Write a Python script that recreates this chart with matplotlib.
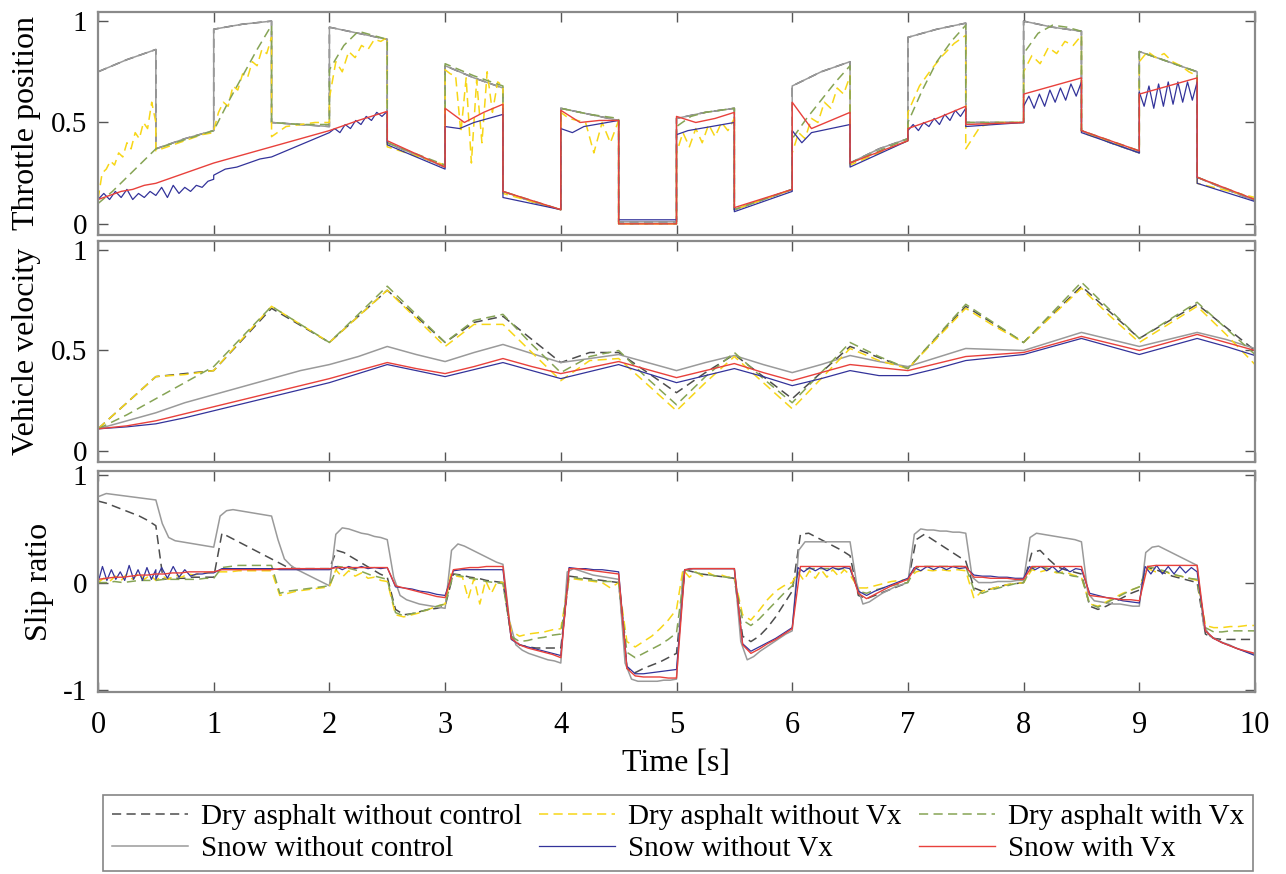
import numpy as np
import matplotlib
matplotlib.use("Agg")
import matplotlib.pyplot as plt

plt.rcParams['font.family'] = ['Liberation Serif', 'DejaVu Serif']

# --- Datos: cada tramo de 0.5 s es una lista de valores repartidos uniformemente ---
SEG = 0.5
labels = ["Dry asphalt without control", "Dry asphalt without Vx", "Dry asphalt with Vx",
          "Snow without control", "Snow without Vx", "Snow with Vx"]

# Throttle position
thr_no_ctrl = [
    [0.75, 0.81, 0.86], [0.37, 0.42, 0.46], [0.96, 0.985, 1.00], [0.50, 0.49, 0.48],
    [0.97, 0.94, 0.91], [0.40, 0.34, 0.28], [0.78, 0.72, 0.67], [0.16, 0.11, 0.07],
    [0.57, 0.54, 0.51], [0.01, 0.01], [0.52, 0.55, 0.57], [0.07, 0.12, 0.17],
    [0.68, 0.75, 0.80], [0.30, 0.37, 0.42], [0.92, 0.96, 0.99], [0.50, 0.50],
    [1.00, 0.97, 0.95], [0.46, 0.40, 0.35], [0.85, 0.80, 0.75], [0.23, 0.17, 0.115],
]
thr_dry_novx = [
    [0.12, 0.25, 0.27, 0.31, 0.29, 0.35, 0.33, 0.40, 0.37, 0.45, 0.42, 0.50, 0.47, 0.60, 0.50],
    [0.36, 0.38, 0.40, 0.42, 0.44, 0.45],
    [0.46, 0.55, 0.60, 0.58, 0.68, 0.66, 0.74, 0.72, 0.80, 0.78, 0.86, 0.84, 0.92],
    [0.43, 0.48, 0.49, 0.50, 0.50],
    [0.62, 0.80, 0.75, 0.85, 0.82, 0.88, 0.86, 0.91, 0.90, 0.92],
    [0.38, 0.29],
    [0.76, 0.74, 0.73, 0.45, 0.72, 0.30, 0.71, 0.40, 0.75, 0.55, 0.70, 0.68],
    [0.15, 0.07],
    [0.55, 0.52, 0.51, 0.50, 0.35, 0.50, 0.40, 0.51],
    [0.00, 0.00],
    [0.35, 0.45, 0.38, 0.47, 0.40, 0.49, 0.43, 0.50, 0.46, 0.52],
    [0.07, 0.17],
    [0.35, 0.45, 0.42, 0.52, 0.50, 0.60, 0.57, 0.67, 0.64, 0.73],
    [0.29, 0.41],
    [0.55, 0.68, 0.76, 0.83, 0.89, 0.93],
    [0.37, 0.48, 0.50, 0.50, 0.50],
    [0.75, 0.83, 0.79, 0.87, 0.84, 0.90, 0.88, 0.93],
    [0.45, 0.36],
    [0.80, 0.85, 0.82, 0.84, 0.80, 0.78, 0.75, 0.73],
    [0.20, 0.13],
    [0.45],
]
thr_dry_vx = [
    [0.10, 0.16, 0.23, 0.30, 0.37], [0.37, 0.40, 0.43, 0.46], [0.46, 0.60, 0.73, 0.86, 0.98],
    [0.50, 0.49, 0.49], [0.76, 0.88, 0.95, 0.93, 0.91], [0.40, 0.29], [0.79, 0.73, 0.68],
    [0.16, 0.07], [0.57, 0.54, 0.52], [0.00, 0.00], [0.48, 0.53, 0.55, 0.56, 0.57],
    [0.07, 0.17], [0.42, 0.52, 0.61, 0.70, 0.78], [0.30, 0.42], [0.50, 0.66, 0.80, 0.90, 0.98],
    [0.50, 0.50], [0.84, 0.94, 0.98, 0.97, 0.95], [0.46, 0.36], [0.85, 0.80, 0.75], [0.23, 0.12],
]
thr_snow_novx = [
    [0.12, 0.15, 0.12, 0.16, 0.13, 0.17, 0.12, 0.15, 0.13, 0.16, 0.14],
    [0.14, 0.18, 0.13, 0.19, 0.15, 0.18, 0.16, 0.19, 0.18, 0.21, 0.22],
    [0.24, 0.27, 0.28, 0.30, 0.32, 0.33],
    [0.33, 0.36, 0.39, 0.42, 0.45],
    [0.45, 0.47, 0.45, 0.49, 0.47, 0.51, 0.49, 0.53, 0.51, 0.55, 0.53, 0.555],
    [0.39, 0.27],
    [0.48, 0.47, 0.50, 0.52, 0.54],
    [0.13, 0.07],
    [0.47, 0.45, 0.48, 0.49, 0.50, 0.51],
    [0.02, 0.02],
    [0.44, 0.46, 0.47, 0.48, 0.49, 0.50],
    [0.06, 0.16],
    [0.46, 0.40, 0.45, 0.46, 0.47, 0.48, 0.49],
    [0.28, 0.41],
    [0.46, 0.49, 0.46, 0.50, 0.48, 0.52, 0.49, 0.54, 0.51, 0.56, 0.53, 0.57],
    [0.48, 0.50],
    [0.58, 0.63, 0.57, 0.64, 0.58, 0.66, 0.60, 0.67, 0.61, 0.69, 0.63, 0.70],
    [0.45, 0.35],
    [0.65, 0.58, 0.68, 0.57, 0.69, 0.58, 0.70, 0.59, 0.70, 0.60, 0.70, 0.61, 0.70],
    [0.20, 0.11],
    [0.37],
]
thr_snow_vx = [
    [0.12, 0.14, 0.16, 0.17, 0.19, 0.20], [0.20, 0.22, 0.24, 0.26, 0.28, 0.30],
    [0.30, 0.32, 0.34, 0.36, 0.38], [0.38, 0.42, 0.46], [0.46, 0.51, 0.555], [0.41, 0.28],
    [0.57, 0.50, 0.55, 0.59], [0.16, 0.07], [0.56, 0.50, 0.51, 0.51], [0.00, 0.00],
    [0.53, 0.50, 0.52, 0.55], [0.08, 0.17], [0.60, 0.47, 0.51, 0.55], [0.30, 0.41],
    [0.47, 0.52, 0.58], [0.49, 0.50], [0.64, 0.68, 0.72], [0.46, 0.36], [0.64, 0.68, 0.72],
    [0.23, 0.12], [0.63],
]

# Vehicle velocity (muestras cada 0.25 s)
vel_t = np.arange(0, 10.01, 0.25)
vel_dry_no_ctrl = [0.11, 0.24, 0.37, 0.385, 0.40, 0.555, 0.71, 0.625, 0.54, 0.67, 0.80, 0.67, 0.54,
                   0.64, 0.67, 0.555, 0.44, 0.49, 0.49, 0.39, 0.29, 0.39, 0.48, 0.37, 0.26, 0.39,
                   0.52, 0.465, 0.41, 0.565, 0.72, 0.63, 0.54, 0.68, 0.82, 0.69, 0.56, 0.645, 0.73,
                   0.615, 0.50]
vel_dry_novx = [0.11, 0.24, 0.37, 0.38, 0.40, 0.56, 0.72, 0.63, 0.54, 0.67, 0.80, 0.66, 0.52,
                0.63, 0.63, 0.49, 0.35, 0.45, 0.46, 0.33, 0.20, 0.34, 0.47, 0.34, 0.21, 0.36,
                0.51, 0.45, 0.41, 0.56, 0.71, 0.62, 0.54, 0.675, 0.81, 0.67, 0.54, 0.63, 0.72,
                0.58, 0.43]
vel_dry_vx = [0.11, 0.18, 0.26, 0.34, 0.42, 0.57, 0.72, 0.63, 0.54, 0.68, 0.82, 0.68, 0.54,
              0.65, 0.68, 0.53, 0.39, 0.47, 0.50, 0.36, 0.23, 0.37, 0.49, 0.36, 0.24, 0.39,
              0.54, 0.47, 0.41, 0.57, 0.73, 0.635, 0.54, 0.69, 0.84, 0.70, 0.56, 0.65, 0.74,
              0.61, 0.48]
vel_snow_no_ctrl = [0.11, 0.15, 0.19, 0.24, 0.28, 0.32, 0.36, 0.40, 0.43, 0.47, 0.52, 0.48, 0.445,
                    0.49, 0.53, 0.485, 0.44, 0.46, 0.48, 0.44, 0.40, 0.44, 0.475, 0.43, 0.39, 0.43,
                    0.475, 0.445, 0.42, 0.465, 0.51, 0.505, 0.50, 0.545, 0.59, 0.555, 0.52, 0.555,
                    0.59, 0.555, 0.51]
vel_snow_novx = [0.11, 0.12, 0.135, 0.165, 0.20, 0.235, 0.27, 0.305, 0.34, 0.385, 0.43, 0.40, 0.37,
                 0.405, 0.44, 0.40, 0.36, 0.395, 0.43, 0.385, 0.34, 0.375, 0.41, 0.37, 0.325, 0.36,
                 0.40, 0.375, 0.375, 0.41, 0.45, 0.465, 0.48, 0.52, 0.56, 0.52, 0.48, 0.52, 0.56,
                 0.52, 0.475]
vel_snow_vx = [0.11, 0.125, 0.15, 0.185, 0.22, 0.255, 0.29, 0.325, 0.36, 0.40, 0.44, 0.41, 0.385,
               0.42, 0.46, 0.42, 0.385, 0.415, 0.445, 0.405, 0.365, 0.40, 0.435, 0.39, 0.35, 0.39,
               0.43, 0.415, 0.40, 0.435, 0.47, 0.48, 0.49, 0.53, 0.57, 0.535, 0.50, 0.54, 0.58,
               0.54, 0.50]

# Slip ratio
slip_dry_no_ctrl = [
    [0.76, 0.74, 0.71, 0.68, 0.65, 0.62, 0.58, 0.53], [0.53, 0.03, 0.04, 0.04, 0.04, 0.05, 0.05, 0.05, 0.05],
    [0.05, 0.46, 0.42, 0.38, 0.34, 0.30, 0.26, 0.22], [0.22, 0.18, 0.14, 0.13, 0.13, 0.13, 0.13, 0.13],
    [0.13, 0.30, 0.28, 0.24, 0.20, 0.16, 0.12, 0.08, 0.05], [0.05, -0.25, -0.30, -0.29, -0.27, -0.25, -0.24, -0.22],
    [-0.22, 0.08, 0.07, 0.05, 0.04, 0.02, 0.01, 0.0], [0.0, -0.50, -0.58, -0.60, -0.61, -0.61, -0.61, -0.61],
    [-0.61, 0.06, 0.05, 0.04, 0.03, 0.02, 0.01, 0.0], [0.0, -0.80, -0.84, -0.80, -0.77, -0.74, -0.70, -0.66],
    [-0.66, 0.12, 0.10, 0.08, 0.07, 0.06, 0.05, 0.04], [0.04, -0.50, -0.55, -0.50, -0.42, -0.32, -0.20, -0.08],
    [-0.08, 0.45, 0.46, 0.42, 0.38, 0.34, 0.30, 0.25], [0.25, -0.12, -0.15, -0.12, -0.09, -0.06, -0.03, 0.0],
    [0.0, 0.40, 0.45, 0.40, 0.35, 0.30, 0.25, 0.20], [0.20, -0.05, -0.08, -0.06, -0.04, -0.02, -0.01, 0.0],
    [0.0, 0.28, 0.30, 0.22, 0.15, 0.12, 0.10, 0.08], [0.08, -0.22, -0.25, -0.22, -0.18, -0.14, -0.10, -0.07],
    [-0.07, 0.14, 0.12, 0.09, 0.06, 0.04, 0.02, 0.0], [0.0, -0.48, -0.52, -0.53, -0.53, -0.53, -0.53, -0.53],
]
slip_dry_novx = [
    [0.0, 0.04, 0.01, 0.06, 0.02, 0.08, 0.03, 0.09, 0.03, 0.07, 0.02],
    [0.02, 0.06, 0.03, 0.07, 0.05, 0.08, 0.07, 0.09, 0.09, 0.10],
    [0.10, 0.10, 0.10, 0.11, 0.11, 0.11, 0.11, 0.11],
    [0.11, -0.12, -0.10, -0.08, -0.07, -0.06, -0.05, -0.04],
    [-0.04, 0.12, 0.05, 0.11, 0.06, 0.09, 0.04, 0.05, 0.02, 0.01],
    [0.01, -0.30, -0.32, -0.30, -0.28, -0.25, -0.22, -0.20],
    [-0.20, 0.08, 0.06, 0.05, -0.15, 0.04, -0.20, 0.02, -0.10, 0.01, 0.0],
    [0.0, -0.45, -0.50, -0.48, -0.47, -0.46, -0.44, -0.43],
    [-0.43, 0.04, 0.03, 0.02, 0.01, 0.0, -0.05, 0.0],
    [0.0, -0.55, -0.60, -0.55, -0.50, -0.43, -0.35, -0.25],
    [-0.25, 0.12, 0.05, 0.10, 0.06, 0.09, 0.06, 0.07, 0.05, 0.05],
    [0.05, -0.30, -0.35, -0.26, -0.16, -0.08, -0.03, 0.0],
    [0.0, 0.10, 0.02, 0.11, 0.04, 0.12, 0.05, 0.12, 0.06, 0.12, 0.07],
    [0.07, -0.05, -0.05, -0.03, -0.01, 0.01, 0.02, 0.03],
    [0.03, 0.10, 0.12, 0.11, 0.12, 0.11, 0.12, 0.11],
    [0.11, -0.15, -0.08, -0.06, -0.04, -0.02, -0.01, 0.0],
    [0.0, 0.12, 0.10, 0.12, 0.09, 0.10, 0.07, 0.05],
    [0.05, -0.20, -0.22, -0.18, -0.14, -0.10, -0.07, -0.04],
    [-0.04, 0.13, 0.10, 0.11, 0.07, 0.06, 0.04, 0.02],
    [0.02, -0.40, -0.42, -0.42, -0.41, -0.41, -0.40, -0.40],
]
slip_dry_vx = [
    [0.0, 0.0, 0.01, 0.0, 0.01, 0.02, 0.02, 0.02], [0.02, 0.03, 0.03, 0.03, 0.03, 0.03, 0.04, 0.04],
    [0.04, 0.14, 0.15, 0.16, 0.16, 0.16, 0.16, 0.16], [0.16, -0.10, -0.08, -0.07, -0.06, -0.05, -0.04, -0.03],
    [-0.03, 0.15, 0.14, 0.12, 0.10, 0.07, 0.05, 0.03], [0.03, -0.28, -0.31, -0.29, -0.27, -0.25, -0.22, -0.20],
    [-0.20, 0.08, 0.06, 0.04, 0.03, 0.01, 0.0, -0.01], [-0.01, -0.50, -0.55, -0.54, -0.52, -0.51, -0.49, -0.48],
    [-0.48, 0.06, 0.04, 0.03, 0.02, 0.01, 0.01, 0.0], [0.0, -0.65, -0.70, -0.66, -0.62, -0.58, -0.53, -0.47],
    [-0.47, 0.12, 0.10, 0.08, 0.07, 0.06, 0.05, 0.04], [0.04, -0.35, -0.40, -0.34, -0.26, -0.18, -0.10, -0.03],
    [-0.03, 0.12, 0.13, 0.13, 0.13, 0.13, 0.13, 0.13], [0.13, -0.08, -0.10, -0.07, -0.05, -0.03, -0.01, 0.0],
    [0.0, 0.14, 0.15, 0.15, 0.15, 0.15, 0.15, 0.15], [0.15, -0.07, -0.10, -0.07, -0.05, -0.03, -0.01, 0.0],
    [0.0, 0.14, 0.15, 0.13, 0.10, 0.08, 0.06, 0.05], [0.05, -0.20, -0.23, -0.19, -0.15, -0.11, -0.07, -0.04],
    [-0.04, 0.15, 0.13, 0.11, 0.08, 0.06, 0.04, 0.03], [0.03, -0.42, -0.46, -0.46, -0.45, -0.45, -0.45, -0.45],
]
slip_snow_no_ctrl = [
    [0.80, 0.83, 0.82, 0.81, 0.80, 0.79, 0.78, 0.77],
    [0.77, 0.55, 0.42, 0.39, 0.38, 0.37, 0.36, 0.35, 0.34, 0.33],
    [0.33, 0.62, 0.67, 0.68, 0.67, 0.66, 0.65, 0.64, 0.63, 0.62],
    [0.62, 0.40, 0.22, 0.16, 0.12, 0.09, 0.06, 0.03, 0.00, -0.03],
    [-0.03, 0.45, 0.51, 0.50, 0.48, 0.46, 0.45, 0.43, 0.42, 0.40],
    [0.40, 0.05, -0.12, -0.16, -0.18, -0.20, -0.21, -0.22, -0.23, -0.24],
    [-0.24, 0.30, 0.36, 0.34, 0.31, 0.28, 0.25, 0.22, 0.19, 0.17],
    [0.17, -0.35, -0.58, -0.63, -0.66, -0.68, -0.70, -0.72, -0.73, -0.75],
    [-0.75, 0.10, 0.13, 0.11, 0.09, 0.07, 0.06, 0.05, 0.04, 0.03],
    [0.03, -0.75, -0.90, -0.92, -0.92, -0.92, -0.92, -0.91, -0.91, -0.90],
    [-0.90, 0.10, 0.13, 0.13, 0.13, 0.13, 0.13, 0.13, 0.13, 0.13],
    [0.13, -0.55, -0.72, -0.69, -0.64, -0.60, -0.56, -0.52, -0.48, -0.45],
    [-0.45, 0.30, 0.38, 0.38, 0.38, 0.38, 0.38, 0.38, 0.38, 0.38],
    [0.38, 0.0, -0.20, -0.18, -0.14, -0.10, -0.07, -0.04, -0.02, 0.0],
    [0.0, 0.45, 0.50, 0.49, 0.49, 0.48, 0.48, 0.47, 0.47, 0.46],
    [0.46, 0.05, 0.0, 0.0, 0.0, 0.01, 0.01, 0.01, 0.02, 0.02],
    [0.02, 0.42, 0.46, 0.45, 0.44, 0.43, 0.42, 0.41, 0.40, 0.38],
    [0.38, -0.10, -0.17, -0.18, -0.19, -0.20, -0.20, -0.21, -0.22, -0.22],
    [-0.22, 0.28, 0.33, 0.34, 0.31, 0.28, 0.25, 0.22, 0.19, 0.16],
    [0.16, -0.40, -0.50, -0.53, -0.56, -0.58, -0.61, -0.63, -0.65, -0.67],
]
slip_snow_novx = [
    [0.0, 0.15, 0.02, 0.12, 0.03, 0.10, 0.02, 0.16, 0.03, 0.12, 0.02, 0.14, 0.03, 0.12],
    [0.03, 0.14, 0.04, 0.15, 0.05, 0.12, 0.06, 0.08, 0.08, 0.09, 0.09],
    [0.09, 0.13, 0.13, 0.13, 0.13, 0.13, 0.13, 0.13], [0.13, 0.12, 0.12, 0.12, 0.12, 0.12, 0.12, 0.12],
    [0.12, 0.15, 0.12, 0.15, 0.13, 0.15, 0.13, 0.14, 0.13, 0.14],
    [0.14, -0.04, -0.05, -0.06, -0.08, -0.09, -0.11, -0.12],
    [-0.12, 0.11, 0.12, 0.12, 0.12, 0.12, 0.12, 0.12],
    [0.12, -0.53, -0.58, -0.60, -0.62, -0.64, -0.66, -0.68],
    [-0.68, 0.14, 0.13, 0.13, 0.12, 0.12, 0.11, 0.10],
    [0.10, -0.78, -0.85, -0.85, -0.84, -0.83, -0.82, -0.81],
    [-0.81, 0.12, 0.13, 0.13, 0.13, 0.13, 0.13, 0.13],
    [0.13, -0.57, -0.64, -0.60, -0.56, -0.52, -0.47, -0.42],
    [-0.42, 0.14, 0.10, 0.14, 0.11, 0.14, 0.11, 0.14, 0.12, 0.14, 0.13],
    [0.13, -0.08, -0.12, -0.08, -0.05, -0.02, 0.01, 0.04],
    [0.04, 0.14, 0.11, 0.15, 0.12, 0.15, 0.12, 0.15, 0.13, 0.14],
    [0.14, 0.07, 0.06, 0.06, 0.05, 0.05, 0.04, 0.04],
    [0.04, 0.15, 0.12, 0.15, 0.11, 0.15, 0.10, 0.14, 0.10, 0.13, 0.12],
    [0.12, -0.10, -0.12, -0.14, -0.15, -0.17, -0.18, -0.19],
    [-0.19, 0.15, 0.08, 0.16, 0.08, 0.15, 0.08, 0.15, 0.09, 0.14, 0.10],
    [0.10, -0.45, -0.52, -0.56, -0.59, -0.62, -0.65, -0.68],
]
slip_snow_vx = [
    [0.03, 0.04, 0.05, 0.05, 0.06, 0.07, 0.07, 0.08], [0.08, 0.08, 0.09, 0.09, 0.10, 0.10, 0.10, 0.10],
    [0.10, 0.12, 0.12, 0.12, 0.12, 0.12, 0.12, 0.12], [0.12, 0.13, 0.13, 0.13, 0.13, 0.13, 0.13, 0.13],
    [0.13, 0.14, 0.14, 0.14, 0.14, 0.14, 0.14, 0.14], [0.14, -0.03, -0.05, -0.07, -0.09, -0.11, -0.13, -0.14],
    [-0.14, 0.12, 0.13, 0.14, 0.14, 0.15, 0.15, 0.15], [0.15, -0.52, -0.58, -0.61, -0.63, -0.65, -0.67, -0.70],
    [-0.70, 0.13, 0.13, 0.12, 0.11, 0.10, 0.09, 0.08], [0.08, -0.80, -0.87, -0.88, -0.88, -0.88, -0.89, -0.89],
    [-0.89, 0.12, 0.13, 0.13, 0.13, 0.13, 0.13, 0.13], [0.13, -0.58, -0.66, -0.62, -0.57, -0.53, -0.48, -0.43],
    [-0.43, 0.15, 0.15, 0.15, 0.15, 0.15, 0.15, 0.15], [0.15, -0.10, -0.15, -0.11, -0.07, -0.03, 0.0, 0.03],
    [0.03, 0.15, 0.15, 0.15, 0.15, 0.15, 0.15, 0.15], [0.15, 0.05, 0.05, 0.04, 0.04, 0.04, 0.03, 0.03],
    [0.03, 0.15, 0.15, 0.15, 0.15, 0.15, 0.15, 0.15], [0.15, -0.12, -0.13, -0.14, -0.15, -0.16, -0.16, -0.17],
    [-0.17, 0.15, 0.16, 0.16, 0.16, 0.16, 0.16, 0.16], [0.16, -0.45, -0.52, -0.56, -0.59, -0.62, -0.64, -0.66],
    [0.0],
]


def tramos(segs):
    # convierte la lista de tramos en (t, y)
    ts, ys = [], []
    for k, vals in enumerate(segs):
        ts.extend(np.linspace(k * SEG, (k + 1) * SEG, len(vals)) if len(vals) > 1 else [k * SEG])
        ys.extend(vals)
    return np.array(ts), np.array(ys)


# --- Estilos ---
estilos = {
    "dry_nc": dict(color='#4d4d4d', ls=(0, (6, 3.5)), lw=1.1),
    "dry_novx": dict(color='#f7d617', ls=(0, (6, 3.5)), lw=1.1),
    "dry_vx": dict(color='#86a455', ls=(0, (6, 3.5)), lw=1.1),
    "snow_nc": dict(color='#9a9a9a', ls='-', lw=1.1),
    "snow_novx": dict(color='#33339a', ls='-', lw=0.9),
    "snow_vx": dict(color='#e8413c', ls='-', lw=1.0),
}
orden = ["dry_nc", "snow_nc", "dry_novx", "dry_vx", "snow_novx", "snow_vx"]

thr = {"dry_nc": thr_no_ctrl, "snow_nc": thr_no_ctrl, "dry_novx": thr_dry_novx,
       "dry_vx": thr_dry_vx, "snow_novx": thr_snow_novx, "snow_vx": thr_snow_vx}
vel = {"dry_nc": vel_dry_no_ctrl, "snow_nc": vel_snow_no_ctrl, "dry_novx": vel_dry_novx,
       "dry_vx": vel_dry_vx, "snow_novx": vel_snow_novx, "snow_vx": vel_snow_vx}
slip = {"dry_nc": slip_dry_no_ctrl, "snow_nc": slip_snow_no_ctrl, "dry_novx": slip_dry_novx,
        "dry_vx": slip_dry_vx, "snow_novx": slip_snow_novx, "snow_vx": slip_snow_vx}

fig = plt.figure(figsize=(12.86, 8.74), dpi=100)
W, H = 1286, 874
left, width = 98 / W, 1157 / W
ax1 = fig.add_axes([left, 1 - 235 / H, width, 223 / H])
ax2 = fig.add_axes([left, 1 - 462 / H, width, 221 / H])
ax3 = fig.add_axes([left, 1 - 692 / H, width, 221 / H])

lineas = {}
for key in orden:
    t, y = tramos(thr[key])
    ax1.plot(t, y, **estilos[key])
    ax2.plot(vel_t, vel[key], **estilos[key])
    t, y = tramos(slip[key])
    lineas[key], = ax3.plot(t, y, **estilos[key])

spine_col = '#8a8a8a'
for ax in (ax1, ax2, ax3):
    ax.set_xlim(0, 10)
    ax.set_xticks(range(0, 11))
    ax.tick_params(direction='in', top=True, right=True, length=7, width=1.0,
                   color='#555555')
    ax.tick_params(axis='x', pad=14, labelsize=22)
    ax.tick_params(axis='y', pad=8, labelsize=21)
    for s in ax.spines.values():
        s.set_color(spine_col)
        s.set_linewidth(1.6)

for ax in (ax1, ax2):
    ax.set_ylim(-0.055, 1.045)
    ax.set_yticks([0, 0.5, 1])
    ax.set_yticklabels(['0', '0.5', '1'])
    ax.tick_params(labelbottom=False)

ax3.set_ylim(-1.02, 1.04)
ax3.set_yticks([-1, 0, 1])
ax3.set_yticklabels(['-1', '0', '1'])

ax1.set_ylabel("Throttle position", fontsize=23)
ax2.set_ylabel("Vehicle velocity", fontsize=23)
ax3.set_ylabel("Slip ratio", fontsize=23)
ax1.yaxis.set_label_coords(-0.049, 0.5)
ax2.yaxis.set_label_coords(-0.049, 0.5)
ax3.yaxis.set_label_coords(-0.038, 0.5)
ax3.set_xlabel("Time [s]", fontsize=23, labelpad=6)

leg_keys = ["dry_nc", "snow_nc", "dry_novx", "snow_novx", "dry_vx", "snow_vx"]
leg_labels = {"dry_nc": labels[0], "dry_novx": labels[1], "dry_vx": labels[2],
              "snow_nc": labels[3], "snow_novx": labels[4], "snow_vx": labels[5]}
leg = fig.legend([lineas[k] for k in leg_keys], [leg_labels[k] for k in leg_keys],
                 ncol=3, loc='lower left', bbox_to_anchor=(103 / W, 3 / H, 1150 / W, 70 / H),
                 mode='expand', fontsize=21, frameon=True, fancybox=False,
                 handlelength=2.6, handletextpad=0.45, borderpad=0.3, labelspacing=0.2,
                 borderaxespad=0)
leg.get_frame().set_edgecolor('#666666')
leg.get_frame().set_linewidth(1.2)

fig.savefig("out.png", dpi=100)
